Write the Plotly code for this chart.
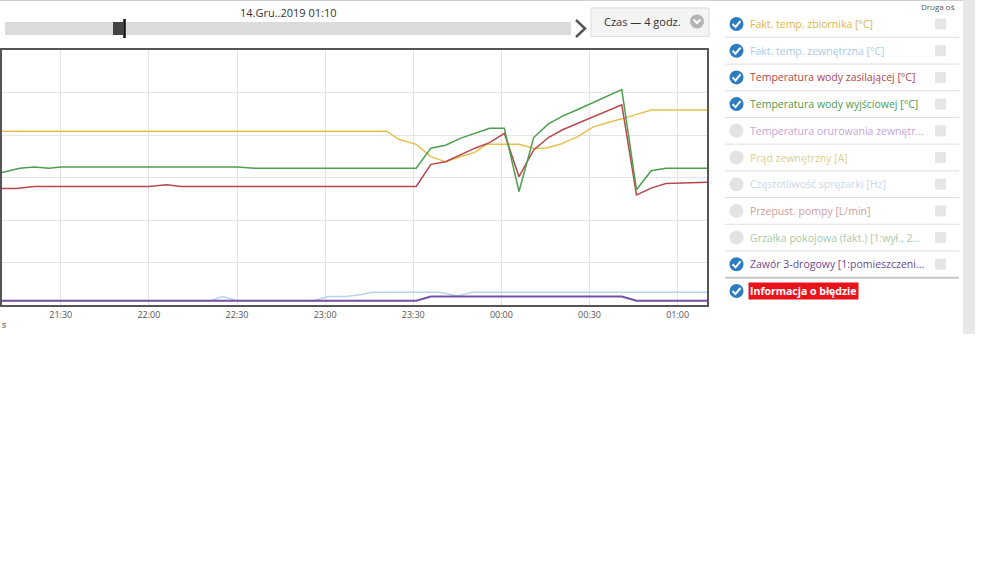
import plotly.graph_objects as go
import pandas as pd

# ---------------- data ----------------
tank_t = ["21:10", "23:21", "23:25", "23:31", "23:36", "23:41", "23:46", "23:51", "23:55",
          "00:06", "00:11", "00:15", "00:20", "00:26", "00:31", "00:36", "00:41", "00:46", "00:51", "01:10"]
tank_v = [40.9, 40.9, 39.0, 37.8, 34.9, 33.7, 34.9, 35.9, 37.8,
          37.8, 36.9, 36.9, 37.8, 39.6, 41.8, 42.9, 43.8, 44.9, 45.9, 45.9]

outdoor_t = ["21:10", "22:21", "22:25", "22:30", "22:56", "23:01", "23:07", "23:12", "23:16",
             "23:39", "23:45", "23:50", "01:10"]
outdoor_v = [1.0, 1.0, 2.0, 1.0, 1.0, 2.0, 2.0, 2.4, 3.0, 3.0, 2.1, 3.0, 3.0]

supply_t = ["21:10", "21:15", "21:21", "22:00", "22:06", "22:11", "23:31", "23:36", "23:41", "23:46",
            "23:51", "23:56", "00:01", "00:06", "00:11", "00:16", "00:21", "00:41", "00:46", "00:51",
            "00:56", "01:10"]
supply_v = [27.4, 27.4, 27.9, 27.9, 28.3, 27.9, 27.9, 33.1, 33.7, 35.3,
            36.9, 38.2, 40.4, 30.2, 36.5, 39.4, 41.3, 47.1, 25.9, 27.5,
            28.6, 28.9]

outlet_t = ["21:10", "21:16", "21:21", "21:26", "21:30", "22:30", "22:36", "23:31", "23:36", "23:41",
            "23:46", "23:51", "23:56", "00:01", "00:06", "00:11", "00:16", "00:21", "00:26", "00:41",
            "00:46", "00:51", "00:56", "01:10"]
outlet_v = [31.2, 32.2, 32.5, 32.2, 32.5, 32.5, 32.2, 32.2, 36.9, 37.6,
            39.2, 40.4, 41.6, 41.6, 26.7, 39.4, 42.6, 44.5, 46.0, 50.7,
            27.1, 31.6, 32.2, 32.2]

valve_t = ["21:10", "23:31", "23:36", "00:41", "00:46", "01:10"]
valve_v = [1.0, 1.0, 2.0, 2.0, 1.0, 1.0]

legend_labels = ["Fakt. temp. zbiornika [°C]", "Fakt. temp. zewnętrzna [°C]",
                 "Temperatura wody zasilającej [°C]", "Temperatura wody wyjściowej [°C]",
                 "Temperatura orurowania zewnętr...", "Prąd zewnętrzny [A]",
                 "Częstotliwość sprężarki [Hz]", "Przepust. pompy [L/min]",
                 "Grzałka pokojowa (fakt.) [1:wył., 2...", "Zawór 3-drogowy [1:pomieszczeni...",
                 "Informacja o błędzie"]
legend_colors = ["#e3b448", "#a9cbe9", "#b4464b", "#4e994e", "#c7a5dc", "#dcd08e",
                 "#c9d7e8", "#cf9e9e", "#a9c9a9", "#6a4a98", "#ffffff"]
legend_checked = [True, True, True, True, False, False, False, False, False, True, True]

tick_labels = ["21:30", "22:00", "22:30", "23:00", "23:30", "00:00", "00:30", "01:00"]

# ---------------- helpers ----------------
L, R, T, B = 2, 707, 50, 305


def px(x):
    return (x - L) / (R - L)


def py(y):
    return (B - y) / (B - T)


def to_dt(hm):
    h = int(hm[:2])
    day = "2019-12-13" if h >= 12 else "2019-12-14"
    return pd.Timestamp(f"{day} {hm}")


def dts(lst):
    return [to_dt(s) for s in lst]


FONT = "Open Sans"
fig = go.Figure()

fig.add_trace(go.Scatter(x=dts(outdoor_t), y=outdoor_v, mode="lines",
                         line=dict(color="#b9d3ee", width=1.5), name=legend_labels[1]))
fig.add_trace(go.Scatter(x=dts(tank_t), y=tank_v, mode="lines",
                         line=dict(color="#e8c050", width=1.5), name=legend_labels[0]))
fig.add_trace(go.Scatter(x=dts(supply_t), y=supply_v, mode="lines",
                         line=dict(color="#b8474c", width=1.5), name=legend_labels[2]))
fig.add_trace(go.Scatter(x=dts(outlet_t), y=outlet_v, mode="lines",
                         line=dict(color="#4f9e4f", width=1.5), name=legend_labels[3]))
fig.add_trace(go.Scatter(x=dts(valve_t), y=valve_v, mode="lines",
                         line=dict(color="#7650a6", width=2), name=legend_labels[9]))

shapes = []
annotations = []

# top thin line
shapes.append(dict(type="line", xref="paper", yref="paper", x0=px(0), x1=px(963), y0=py(0.5), y1=py(0.5),
                   line=dict(color="#d0d0d0", width=1)))

# slider bar
shapes.append(dict(type="rect", xref="paper", yref="paper", x0=px(5), x1=px(571), y0=py(35), y1=py(22),
                   fillcolor="#dcdcdc", line=dict(width=0), layer="above"))
shapes.append(dict(type="rect", xref="paper", yref="paper", x0=px(113), x1=px(123), y0=py(35), y1=py(22),
                   fillcolor="#444444", line=dict(width=0), layer="above"))
shapes.append(dict(type="line", xref="paper", yref="paper", x0=px(124.5), x1=px(124.5), y0=py(38), y1=py(19),
                   line=dict(color="#111111", width=2.5)))
# right chevron
shapes.append(dict(type="path", xref="paper", yref="paper",
                   path=f"M {px(576)},{py(20)} L {px(585)},{py(28.5)} L {px(576)},{py(37)}",
                   line=dict(color="#555555", width=2.5)))
annotations.append(dict(text="14.Gru..2019 01:10", xref="paper", yref="paper", x=px(288), y=py(12),
                        xanchor="center", yanchor="middle", showarrow=False,
                        font=dict(family=FONT, size=11, color="#333333")))

# dropdown
shapes.append(dict(type="rect", xref="paper", yref="paper", x0=px(591), x1=px(709), y0=py(36.5), y1=py(8),
                   fillcolor="#f4f4f4", line=dict(color="#dddddd", width=1)))
annotations.append(dict(text="Czas — 4 godz.", xref="paper", yref="paper", x=px(642), y=py(22),
                        xanchor="center", yanchor="middle", showarrow=False,
                        font=dict(family=FONT, size=11, color="#333333")))
shapes.append(dict(type="circle", xref="paper", yref="paper", x0=px(690), x1=px(704), y0=py(28.5), y1=py(14.5),
                   fillcolor="#b3b3b3", line=dict(width=0)))
shapes.append(dict(type="path", xref="paper", yref="paper",
                   path=f"M {px(693.5)},{py(19.5)} L {px(697)},{py(23)} L {px(700.5)},{py(19.5)}",
                   line=dict(color="#ffffff", width=2)))

# right legend panel
annotations.append(dict(text="Druga oś", xref="paper", yref="paper", x=px(938), y=py(7),
                        xanchor="center", yanchor="middle", showarrow=False,
                        font=dict(family=FONT, size=8, color="#555555")))
row0, pitch = 24, 26.7
for i, (lab, col, chk) in enumerate(zip(legend_labels, legend_colors, legend_checked)):
    yc = row0 + pitch * i
    # icon
    shapes.append(dict(type="circle", xref="paper", yref="paper", x0=px(729.5), x1=px(743.5),
                       y0=py(yc + 7), y1=py(yc - 7),
                       fillcolor="#2e7cc0" if chk else "#e3e3e3", line=dict(width=0)))
    if chk:
        shapes.append(dict(type="path", xref="paper", yref="paper",
                           path=f"M {px(732.5)},{py(yc)} L {px(735.5)},{py(yc + 3)} L {px(740.5)},{py(yc - 3)}",
                           line=dict(color="#ffffff", width=2)))
    is_err = lab == "Informacja o błędzie"
    annotations.append(dict(text=f"<b>{lab}</b>" if is_err else lab, xref="paper", yref="paper",
                            x=px(748), y=py(yc), xanchor="left", yanchor="middle", showarrow=False,
                            bgcolor="#e8131b" if is_err else None, borderpad=1,
                            font=dict(family=FONT, size=10.5, color=col)))
    if not is_err:
        shapes.append(dict(type="rect", xref="paper", yref="paper", x0=px(935), x1=px(946),
                           y0=py(yc + 5.5), y1=py(yc - 5.5), fillcolor="#e6e6e6", line=dict(width=0)))
        sep_y = yc + pitch / 2
        last = i == 9
        shapes.append(dict(type="line", xref="paper", yref="paper", x0=px(725), x1=px(959),
                           y0=py(sep_y), y1=py(sep_y),
                           line=dict(color="#c8c8c8" if last else "#dedede", width=2 if last else 1)))

# scrollbar
shapes.append(dict(type="rect", xref="paper", yref="paper", x0=px(963), x1=px(975), y0=py(334), y1=py(0),
                   fillcolor="#e8e8e8", line=dict(width=0)))

annotations.append(dict(text="s", xref="paper", yref="paper", x=px(0), y=py(324),
                        xanchor="left", yanchor="middle", showarrow=False,
                        font=dict(family=FONT, size=9, color="#444444")))

fig.update_layout(
    width=1000, height=562,
    margin=dict(l=L, r=1000 - R, t=T, b=562 - B),
    paper_bgcolor="#ffffff", plot_bgcolor="#ffffff",
    showlegend=False,
    shapes=shapes, annotations=annotations,
    xaxis=dict(type="date", range=[to_dt("21:10"), to_dt("01:10")],
               tickvals=dts(tick_labels), ticktext=tick_labels,
               showgrid=True, gridcolor="#e4e4e4", gridwidth=1,
               showline=True, mirror=True, linecolor="#555555", linewidth=2,
               ticks="", tickfont=dict(family=FONT, size=9, color="#555555"), zeroline=False),
    yaxis=dict(range=[0, 60], dtick=10, showticklabels=False,
               showgrid=True, gridcolor="#e4e4e4", gridwidth=1,
               showline=True, mirror=True, linecolor="#555555", linewidth=2,
               ticks="", zeroline=False),
)

fig.write_html("out.html", config={"displayModeBar": False},
               post_script="document.body.style.margin='0';document.body.style.padding='0';"
                           "document.body.style.overflow='hidden';")
